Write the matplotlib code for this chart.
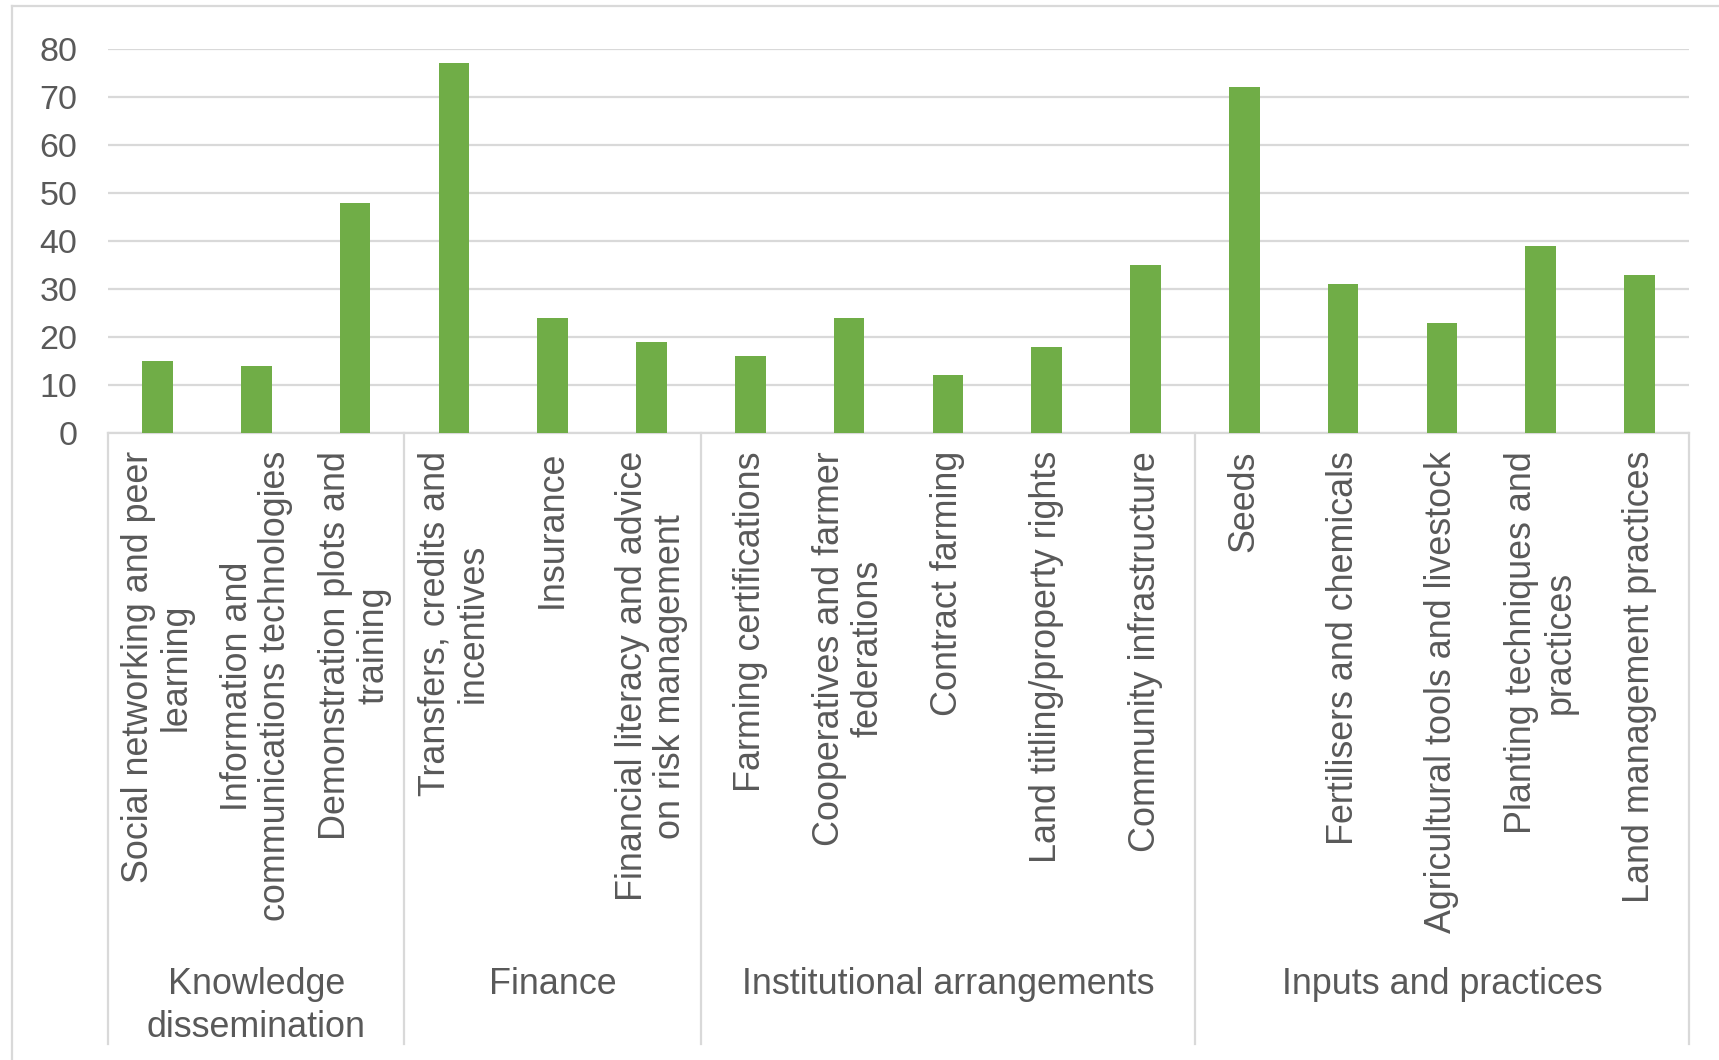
import matplotlib
matplotlib.use("Agg")
import matplotlib.pyplot as plt
import matplotlib.transforms as mtransforms
from matplotlib.lines import Line2D

plt.rcParams['font.family'] = ['Liberation Sans', 'DejaVu Sans']

# data
groups = ["Knowledge\ndissemination", "Finance", "Institutional arrangements", "Inputs and practices"]
group_sizes = [3, 3, 5, 5]
categories = [
    "Social networking and peer\nlearning",
    "Information and\ncommunications technologies",
    "Demonstration plots and\ntraining",
    "Transfers, credits and\nincentives",
    "Insurance",
    "Financial literacy and advice\non risk management",
    "Farming certifications",
    "Cooperatives and farmer\nfederations",
    "Contract farming",
    "Land titling/property rights",
    "Community infrastructure",
    "Seeds",
    "Fertilisers and chemicals",
    "Agricultural tools and livestock",
    "Planting techniques and\npractices",
    "Land management practices",
]
values = [15, 14, 48, 77, 24, 19, 16, 24, 12, 18, 35, 72, 31, 23, 39, 33]
yticks = [0, 10, 20, 30, 40, 50, 60, 70, 80]

W, H = 1719, 1060
green = '#70AD47'
grey = '#D9D9D9'
txt = '#595959'
fs = 25.8

fig = plt.figure(figsize=(W / 100, H / 100), dpi=100)
ax = fig.add_axes([108 / W, 1 - 433 / H, (1689 - 108) / W, (433 - 49) / H])

x = list(range(len(values)))
ax.bar(x, values, width=0.31, color=green, zorder=3)
ax.set_xlim(-0.5, len(values) - 0.5)
ax.set_ylim(0, 80)
ax.set_yticks(yticks)
ax.set_xticks([])
ax.grid(axis='y', color=grey, lw=1.6)
ax.set_axisbelow(True)
for s in ['left', 'right', 'top']:
    ax.spines[s].set_visible(False)
ax.spines['bottom'].set_color(grey)
ax.spines['bottom'].set_linewidth(1.6)
ax.tick_params(axis='y', length=0, pad=22, labelsize=24.5, labelcolor=txt)

trans = mtransforms.blended_transform_factory(ax.transData, fig.transFigure)

# category labels, rotated
for i, lab in enumerate(categories):
    ax.text(i, 1 - 451 / H, lab, transform=trans, rotation=90, ha='center', va='top',
            multialignment='center', fontsize=fs, color=txt, linespacing=1.12)

# group separators and group labels
edges = [-0.5]
for n in group_sizes:
    edges.append(edges[-1] + n)
for e in edges:
    ax.plot([e, e], [1 - 433 / H, 1 - 1044 / H], transform=trans, clip_on=False,
            color=grey, lw=1.6)
for g, a, b in zip(groups, edges[:-1], edges[1:]):
    ax.text((a + b) / 2, 1 - 967 / H, g, transform=trans, ha='center', va='top',
            multialignment='center', fontsize=fs, color=txt, linespacing=1.3)

# chart area border (left and top visible)
fig.add_artist(Line2D([12 / W, 12 / W], [0, 1 - 6 / H], color=grey, lw=1.6))
fig.add_artist(Line2D([12 / W, 1], [1 - 6 / H, 1 - 6 / H], color=grey, lw=1.6))

fig.savefig('out.png', dpi=100)
